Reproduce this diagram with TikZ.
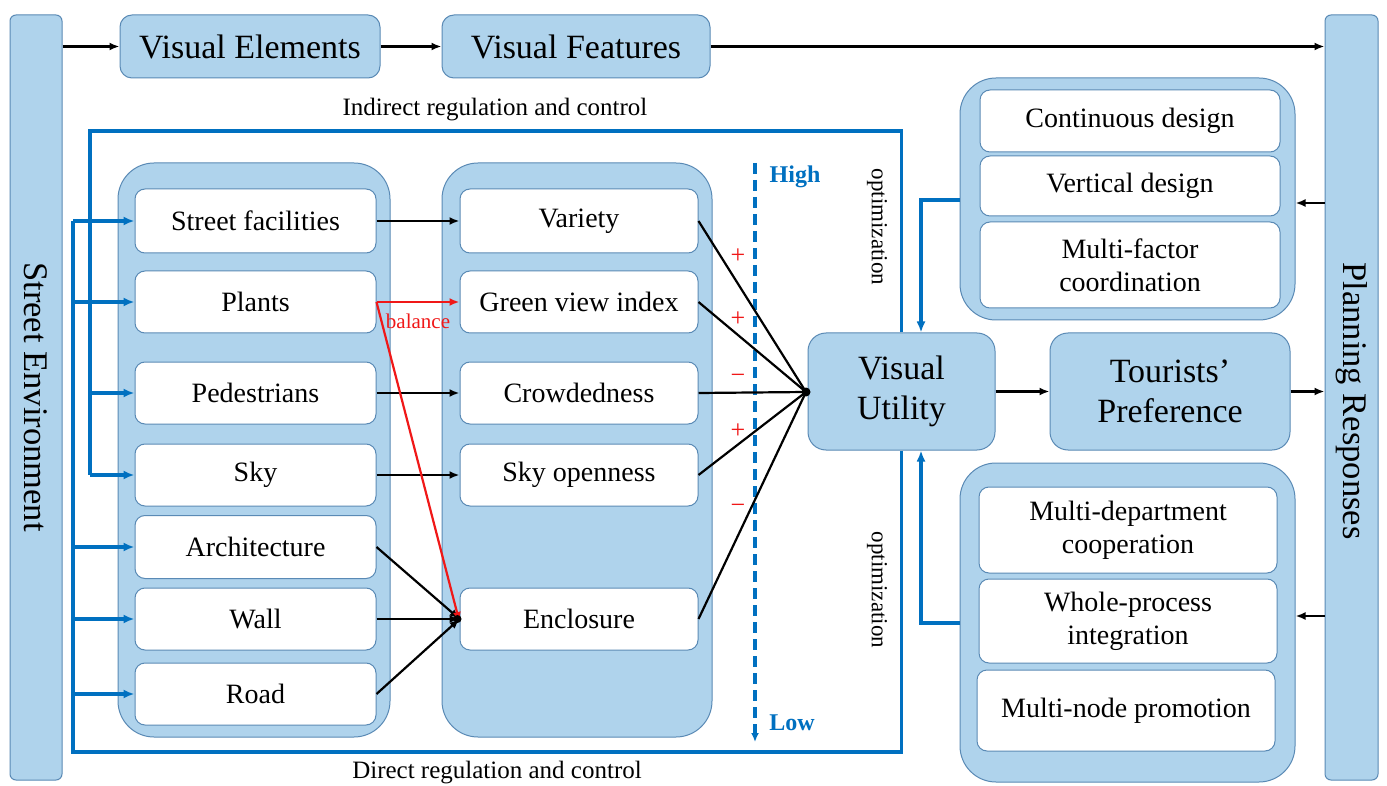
\documentclass[tikz,border=0pt]{standalone}
\usepackage{fontspec}
\setmainfont{LiberationSerif}[Extension=.ttf, UprightFont=*-Regular, BoldFont=*-Bold, ItalicFont=*-Italic, BoldItalicFont=*-BoldItalic]
\usetikzlibrary{arrows.meta,calc}
\definecolor{fillblue}{HTML}{AFD3EC}
\definecolor{edgeblue}{HTML}{5A8AB5}
\definecolor{lineblue}{HTML}{0070C0}
\definecolor{signred}{HTML}{F01818}
\begin{document}
\begin{tikzpicture}[x=1pt,y=-1pt,
  bar/.style={draw=edgeblue, fill=fillblue, line width=1pt, rounded corners=6pt, inner sep=0pt},
  group/.style={draw=edgeblue, fill=fillblue, line width=1pt, rounded corners=36pt, inner sep=0pt},
  bigbox/.style={draw=edgeblue, fill=fillblue, line width=1pt, rounded corners=12pt, inner sep=0pt, align=center, font=\rmfamily\fontsize{34}{40}\selectfont},
  item/.style={draw=edgeblue, fill=white, line width=1pt, rounded corners=10pt, inner sep=0pt, align=center, font=\rmfamily\fontsize{28}{33}\selectfont},
  blk/.style={line width=2.2pt, black},
  blkarrow/.style={blk, -{Latex[length=10pt,width=8pt]}},
  bluel/.style={line width=3.2pt, lineblue},
  bluearrow/.style={bluel, -{Latex[length=11pt,width=9pt]}},
  redarrow/.style={line width=2.2pt, signred, -{Latex[length=10pt,width=8pt]}},
  sign/.style={text=signred, font=\rmfamily\fontsize{26}{26}\selectfont, inner sep=0pt},
  note/.style={font=\rmfamily\fontsize{25}{28}\selectfont, inner sep=0pt},
  opt/.style={font=\rmfamily\fontsize{23}{26}\selectfont, inner sep=0pt, rotate=-90},
  hl/.style={text=lineblue, font=\rmfamily\fontsize{24}{26}\selectfont\bfseries, inner sep=0pt},
  sidetext/.style={rotate=-90, font=\rmfamily\fontsize{34.5}{36}\selectfont, inner sep=0pt}
]
\useasboundingbox (0,0) rectangle (1387,786);
\fill[white] (0,0) rectangle (1387,786);

% side bars
\node[bar, minimum width=52, minimum height=765] (se) at (36,397.5) {};
\node[sidetext] (setext) at (36,397) {Street Environment};
\node[bar, minimum width=53, minimum height=765] (pr) at (1351.5,397.5) {};
\node[sidetext] (prtext) at (1351.5,401) {Planning Responses};

% top boxes
\node[bigbox, minimum width=260, minimum height=63] (ve) at (250,46.5) {Visual Elements};
\node[bigbox, minimum width=268, minimum height=63] (vf) at (576,46.5) {Visual Features};

% groups
\node[group, minimum width=272, minimum height=574] (lg) at (254,450) {};
\node[group, minimum width=270, minimum height=574] (mg) at (577,450) {};
\node[group, minimum width=335, minimum height=242] (tc) at (1127.5,199) {};
\node[group, minimum width=335, minimum height=319] (bc) at (1127.5,622.5) {};

% left items
\node[item, minimum width=241, minimum height=64] (sf) at (255.5,221) {Street facilities};
\node[item, minimum width=241, minimum height=62] (pl) at (255.5,302) {Plants};
\node[item, minimum width=241, minimum height=62] (pe) at (255.5,393) {Pedestrians};
\node[item, minimum width=241, minimum height=62] (sk) at (255.5,475) {Sky};
\node[item, minimum width=241, minimum height=63] (ar) at (255.5,547) {Architecture};
\node[item, minimum width=241, minimum height=62] (wa) at (255.5,619) {Wall};
\node[item, minimum width=241, minimum height=62] (ro) at (255.5,694) {Road};

% middle items
\node[item, minimum width=238, minimum height=64] (va) at (579,221) {Variety};
\node[item, minimum width=238, minimum height=62] (gv) at (579,302) {Green view index};
\node[item, minimum width=238, minimum height=62] (cr) at (579,393) {Crowdedness};
\node[item, minimum width=238, minimum height=62] (so) at (579,475) {Sky openness};
\node[item, minimum width=238, minimum height=62] (en) at (579,619) {Enclosure};

% right items
\node[item, minimum width=300, minimum height=62] (cd) at (1130,121) {Continuous design};
\node[item, minimum width=300, minimum height=60] (vd) at (1130,186) {Vertical design};
\node[item, minimum width=300, minimum height=86] (mf) at (1130,265) {Multi-factor\\coordination};
\node[item, minimum width=298, minimum height=86] (md) at (1128,530) {Multi-department\\cooperation};
\node[item, minimum width=298, minimum height=84] (wp) at (1128,621) {Whole-process\\integration};
\node[item, minimum width=298, minimum height=81] (mn) at (1126,710.5) {Multi-node promotion};

% central boxes
\node[bigbox, minimum width=187, minimum height=117, rounded corners=18pt] (vu) at (901.5,391.5) {Visual\\Utility};
\node[bigbox, minimum width=240, minimum height=117, rounded corners=18pt] (tp) at (1170,391.5) {Tourists’\\Preference};

% labels
\node[note] (ind) at (495,110) {Indirect regulation and control};
\node[note] (dir) at (497,773) {Direct regulation and control};
\node[opt] (opt1) at (877,227) {optimization};
\node[opt] (opt2) at (877,590) {optimization};
\node[hl] (high) at (795,177) {High};
\node[hl] (low) at (792,723) {Low};

% top flow
\draw[blkarrow] (se.east |- ve.west) -- (ve.west);
\draw[blkarrow] (ve.east) -- (vf.west);
\draw[blkarrow] (vf.east) -- (vf.east -| pr.west);
\draw[blkarrow] (vu.east) -- (tp.west);
\draw[blkarrow] (tp.east) -- (tp.east -| pr.west);
\coordinate (ya) at (0,203);
\coordinate (yb) at (0,616);
\draw[blkarrow] (pr.west |- ya) -- (tc.east |- ya);
\draw[blkarrow] (pr.west |- yb) -- (bc.east |- yb);

% indirect loop
\coordinate (i1) at (901.5,131);
\coordinate (i2) at (90,131);
\draw[bluel] (vu.north) -- (i1) -- (i2) -- (i2 |- sk.west);
\draw[bluearrow] (i2 |- sk.west) -- (sk.west);
\draw[bluearrow] (i2 |- pe.west) -- (pe.west);

% direct loop
\coordinate (d1) at (901.5,752);
\coordinate (d2) at (73,752);
\draw[bluel] (vu.south) -- (d1) -- (d2) -- (d2 |- sf.west);
\draw[bluearrow] (d2 |- sf.west) -- (sf.west);
\draw[bluearrow] (d2 |- pl.west) -- (pl.west);
\draw[bluearrow] (d2 |- ar.west) -- (ar.west);
\draw[bluearrow] (d2 |- wa.west) -- (wa.west);
\draw[bluearrow] (d2 |- ro.west) -- (ro.west);

% optimization feedback
\coordinate (tcl) at (960,200);
\coordinate (bcl) at (960,623);
\draw[bluearrow] (tcl) -| ([xshift=19.5pt]vu.north);
\draw[bluearrow] (bcl) -| ([xshift=19.5pt]vu.south);

% element -> feature
\draw[blkarrow] (sf.east) -- (va.west);
\draw[blkarrow] (pe.east) -- (cr.west);
\draw[blkarrow] (sk.east) -- (so.west);
\draw[blkarrow] (ar.east) -- (en.west);
\draw[blkarrow] (wa.east) -- (en.west);
\draw[blkarrow] (ro.east) -- (en.west);
\draw[redarrow] (pl.east) -- (gv.west);
\draw[redarrow] (pl.east) -- ([yshift=-3pt]en.west);
\node[text=signred, font=\rmfamily\fontsize{21}{22}\selectfont, inner sep=0pt] (bal) at (418,321) {balance};

% high-low axis
\coordinate (h1) at (755,163);
\coordinate (h2) at (755,742);
\draw[bluel, dash pattern=on 11pt off 6pt, -{Latex[length=9pt,width=8pt]}] (h1) -- (h2);

% features -> visual utility
\coordinate (cv) at (806,392);
\draw[blk] (va.east) -- (cv);
\draw[blk] (gv.east) -- (cv);
\draw[blk] (cr.east) -- (cv);
\draw[blk] (so.east) -- (cv);
\draw[blk] (en.east) -- (cv);
\fill[black] (cv) circle (4.5);
\fill[black] ([xshift=-2pt]en.west) circle (4);

\node[sign] (s1) at (738,256) {+};
\node[sign] (s2) at (738,319) {+};
\node[sign] (s3) at (738,379) {−};
\node[sign] (s4) at (738,431) {+};
\node[sign] (s5) at (738,509) {−};
\end{tikzpicture}
\end{document}
